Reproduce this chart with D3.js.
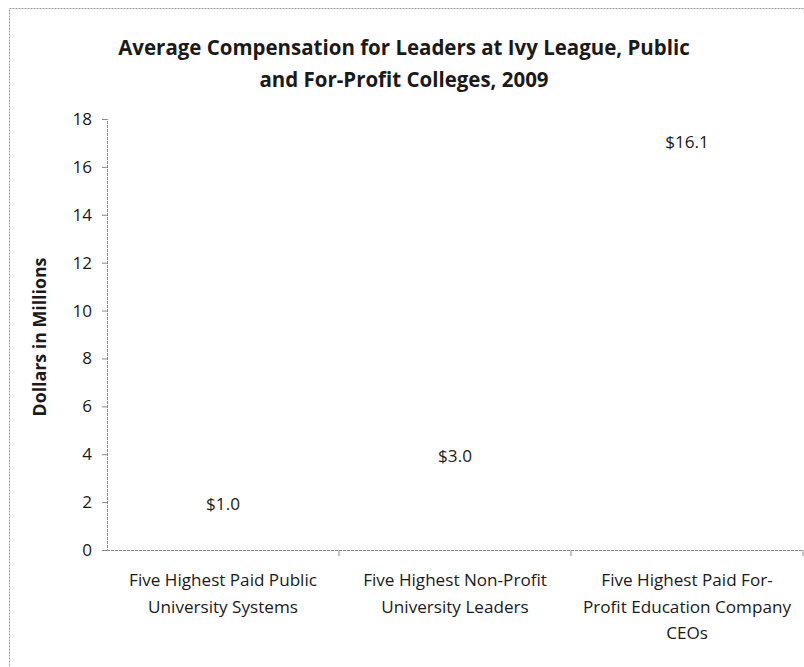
<!DOCTYPE html>
<html>
<head>
<meta charset="utf-8">
<script src="https://cdn.jsdelivr.net/npm/d3@7"></script>
<style>
  html, body { margin: 0; padding: 0; background: #ffffff; }
  svg { display: block; }
  text { font-family: "Open Sans", Lato, "DejaVu Sans", sans-serif; fill: #1a1a1a; }
</style>
</head>
<body>
<svg id="chart" width="804" height="667"></svg>
<script>
// Chart data
const titleLines = ["Average Compensation for Leaders at Ivy League, Public",
                    "and For-Profit Colleges, 2009"];
const categories = ["Public Systems", "Non-Profit Leaders", "For-Profit CEOs"];
const categoryLabels = [
  ["Five Highest Paid Public", "University Systems"],
  ["Five Highest Non-Profit", "University Leaders"],
  ["Five Highest Paid For-", "Profit Education Company", "CEOs"]
];
const values = [1.0, 3.0, 16.1];
const valueLabels = ["$1.0", "$3.0", "$16.1"];
const yTicks = [0, 2, 4, 6, 8, 10, 12, 14, 16, 18];
const yTitle = "Dollars in Millions";

const svg = d3.select("#chart");
const W = 804, H = 667;
const margin = { left: 107, right: 1, top: 119, bottom: 117 };

// Pick a font size so that a reference string spans the wanted width
function fitSize(str, weight, targetWidth) {
  const probe = svg.append("text")
    .attr("font-size", 20).attr("font-weight", weight).text(str);
  const w = probe.node().getComputedTextLength();
  probe.remove();
  return 20 * targetWidth / w;
}
const titleSize = fitSize(titleLines[0], "bold", 572);
const labelSize = fitSize(categoryLabels[0][0], "normal", 188);
const axisTitleSize = fitSize(yTitle, "bold", 159);

// Outer chart frame (only the left and top edges fall inside the view)
svg.append("rect")
  .attr("x", 9.5).attr("y", 8.5)
  .attr("width", W + 10).attr("height", H + 10)
  .attr("fill", "none")
  .attr("stroke", "#9a9a9a")
  .attr("stroke-width", 1)
  .attr("stroke-dasharray", "2,1");

const x = d3.scaleBand()
  .domain(categories)
  .range([margin.left, W - margin.right])
  .paddingInner(0.6)
  .paddingOuter(0.3);

const y = d3.scaleLinear()
  .domain([0, 18])
  .range([H - margin.bottom, margin.top]);

// Title
svg.append("g")
  .selectAll("text")
  .data(titleLines)
  .join("text")
  .attr("x", 404)
  .attr("y", (d, i) => 55 + i * 32)
  .attr("text-anchor", "middle")
  .attr("font-size", titleSize)
  .attr("font-weight", "bold")
  .text(d => d);

// Bars (white fill, as in the printed chart)
svg.append("g")
  .selectAll("rect")
  .data(values)
  .join("rect")
  .attr("x", (d, i) => x(categories[i]))
  .attr("y", d => y(d))
  .attr("width", x.bandwidth())
  .attr("height", d => y(0) - y(d))
  .attr("fill", "#ffffff");

// Value labels above bars
svg.append("g")
  .selectAll("text")
  .data(values)
  .join("text")
  .attr("x", (d, i) => x(categories[i]) + x.bandwidth() / 2)
  .attr("y", d => y(d) - 16)
  .attr("text-anchor", "middle")
  .attr("font-size", labelSize)
  .text((d, i) => valueLabels[i]);

// Y axis
const yAxis = svg.append("g")
  .attr("transform", `translate(${margin.left},0)`)
  .call(d3.axisLeft(y).tickValues(yTicks).tickSize(5).tickPadding(10).tickFormat(d3.format("d")));
yAxis.select(".domain").attr("stroke", "#8a8a8a").attr("stroke-dasharray", "3,1");
yAxis.selectAll(".tick line").attr("stroke", "#8a8a8a");
yAxis.selectAll(".tick text")
  .attr("font-size", labelSize)
  .attr("font-family", "'Open Sans', Lato, sans-serif")
  .attr("fill", "#1a1a1a");

// X axis: baseline with ticks at category boundaries
const xBase = y(0);
const boundaries = d3.range(categories.length + 1)
  .map(i => margin.left + i * (W - margin.right - margin.left) / categories.length);
svg.append("line")
  .attr("x1", margin.left).attr("x2", W - margin.right)
  .attr("y1", xBase + 0.5).attr("y2", xBase + 0.5)
  .attr("stroke", "#8a8a8a")
  .attr("stroke-dasharray", "3,1");
svg.append("g")
  .selectAll("line")
  .data(boundaries.slice(1))
  .join("line")
  .attr("x1", d => d).attr("x2", d => d)
  .attr("y1", xBase).attr("y2", xBase + 6)
  .attr("stroke", "#8a8a8a");

// Category labels
const catG = svg.append("g")
  .selectAll("g")
  .data(categoryLabels)
  .join("g")
  .attr("transform", (d, i) => `translate(${x(categories[i]) + x.bandwidth() / 2},${xBase + 36})`);
catG.selectAll("text")
  .data(d => d)
  .join("text")
  .attr("y", (d, i) => i * 26.5)
  .attr("text-anchor", "middle")
  .attr("font-size", labelSize)
  .text(d => d);

// Y axis title
svg.append("text")
  .attr("transform", `translate(46,337) rotate(-90)`)
  .attr("text-anchor", "middle")
  .attr("font-size", axisTitleSize)
  .attr("font-weight", "bold")
  .text(yTitle);
</script>
</body>
</html>
